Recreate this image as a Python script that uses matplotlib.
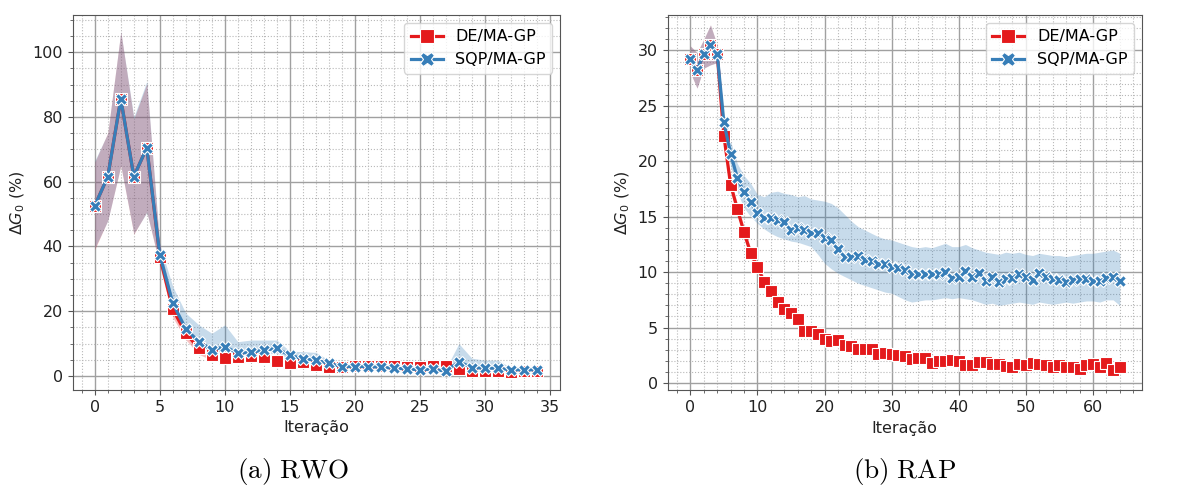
import matplotlib
matplotlib.use("Agg")
import matplotlib.pyplot as plt
from matplotlib.ticker import MultipleLocator
import numpy as np

# ---------------- data: RWO ----------------
iter_rwo = list(range(35))
de_rwo = [52.6, 61.6, 85.6, 61.6, 70.5, 36.9, 20.6, 13.2, 8.5, 6.5, 5.7, 5.8, 6.3, 6.0, 4.7,
          4.1, 4.4, 3.4, 2.9, 2.9, 3.2, 3.2, 3.1, 3.2, 2.9, 2.9, 3.1, 3.2, 2.1, 1.6, 1.5, 1.5,
          1.3, 1.5, 1.5]
de_rwo_err = [13.5, 13.5, 20.7, 17.8, 19.8, 3.0, 2.5, 2.0, 1.8, 1.6, 1.5, 1.3, 1.2, 1.1, 1.0,
              1.0, 0.9, 0.8, 0.7, 0.6, 0.6, 0.6, 0.6, 0.6, 0.6, 0.6, 0.6, 0.6, 0.6, 0.5, 0.5,
              0.5, 0.5, 0.5, 0.5]
sqp_rwo = [52.6, 61.6, 85.6, 61.6, 70.5, 37.4, 22.5, 14.5, 10.6, 8.0, 9.1, 7.0, 7.3, 8.0, 8.5,
           6.4, 5.3, 4.9, 3.9, 2.9, 2.9, 2.9, 2.7, 2.4, 2.2, 1.9, 2.1, 1.5, 4.4, 2.6, 2.4, 2.4,
           1.9, 1.9, 1.9]
sqp_rwo_lo = [39.5, 48.0, 65.0, 44.0, 50.5, 34.5, 20.0, 12.5, 9.0, 7.0, 6.8, 6.0, 6.2, 6.8, 7.0,
              5.5, 4.6, 4.2, 3.3, 2.4, 2.4, 2.4, 2.2, 1.9, 1.7, 1.4, 1.6, 1.0, 2.5, 2.0, 1.9, 1.9,
              1.4, 1.4, 1.4]
sqp_rwo_hi = [66.5, 75.0, 106.4, 80.0, 91.0, 40.5, 27.6, 19.4, 15.8, 13.2, 15.8, 10.6, 11.1, 11.1,
              11.1, 7.7, 7.5, 7.3, 4.9, 3.6, 3.6, 3.6, 3.4, 3.1, 2.9, 2.6, 2.8, 2.2, 10.0, 5.5,
              4.9, 4.9, 2.6, 2.6, 2.6]

# ---------------- data: RAP ----------------
iter_rap = list(range(65))
de_rap = [29.2, 28.2, 29.7, 30.5, 29.7, 22.3, 17.9, 15.7, 13.6, 11.7, 10.5, 9.1, 8.3, 7.3, 6.7,
          6.3, 5.8, 4.7, 4.7, 4.4, 4.0, 3.8, 3.9, 3.4, 3.3, 3.1, 3.1, 3.1, 2.6, 2.7, 2.6, 2.5,
          2.4, 2.2, 2.3, 2.3, 1.8, 2.0, 2.0, 2.1, 2.0, 1.6, 1.6, 1.9, 1.9, 1.7, 1.7, 1.5, 1.4,
          1.7, 1.6, 1.8, 1.7, 1.6, 1.4, 1.6, 1.4, 1.4, 1.3, 1.6, 1.7, 1.4, 1.8, 1.2, 1.4]
de_rap_err = [1.2, 1.6, 1.3, 1.8, 0.8, 0.6, 0.5, 0.5, 0.45, 0.45, 0.4, 0.4, 0.4, 0.35, 0.35,
              0.35, 0.35, 0.3, 0.3, 0.3, 0.3, 0.3, 0.3, 0.3, 0.3, 0.3, 0.3, 0.3, 0.3, 0.3, 0.3,
              0.3, 0.3, 0.3, 0.3, 0.3, 0.3, 0.3, 0.3, 0.3, 0.3, 0.3, 0.3, 0.3, 0.3, 0.3, 0.3,
              0.3, 0.3, 0.3, 0.3, 0.3, 0.3, 0.3, 0.3, 0.3, 0.3, 0.3, 0.3, 0.3, 0.3, 0.3, 0.3,
              0.3, 0.3]
sqp_rap = [29.2, 28.2, 29.7, 30.5, 29.7, 23.5, 20.7, 18.5, 17.2, 16.3, 15.3, 14.9, 14.9, 14.7,
           14.5, 13.8, 14.0, 13.8, 13.5, 13.5, 13.1, 12.9, 12.1, 11.4, 11.4, 11.5, 11.1, 11.0,
           10.7, 10.7, 10.5, 10.4, 10.2, 9.8, 9.8, 9.8, 9.8, 9.8, 10.0, 9.5, 9.6, 10.1, 9.6,
           9.9, 9.2, 9.6, 9.1, 9.4, 9.5, 9.8, 9.6, 9.3, 9.9, 9.6, 9.4, 9.3, 9.1, 9.3, 9.4, 9.4,
           9.2, 9.2, 9.5, 9.6, 9.2]
sqp_rap_lo = [28.0, 26.6, 28.4, 28.7, 28.9, 23.0, 19.6, 17.2, 15.8, 15.0, 14.4, 13.9, 13.5, 13.2,
              13.0, 12.8, 12.7, 12.5, 12.3, 11.6, 10.8, 10.3, 9.9, 9.6, 9.3, 9.0, 8.8, 8.6, 8.4,
              8.2, 8.1, 7.8, 7.5, 7.3, 7.4, 7.5, 7.5, 7.6, 7.7, 7.6, 7.7, 7.6, 7.5, 7.3, 7.1,
              7.2, 7.0, 7.1, 7.2, 7.3, 7.2, 7.1, 7.3, 7.2, 7.1, 7.2, 7.3, 7.2, 7.3, 7.4, 7.4,
              7.3, 7.5, 7.5, 7.0]
sqp_rap_hi = [30.4, 29.8, 31.0, 32.3, 30.5, 24.0, 21.8, 19.8, 18.7, 18.0, 17.0, 16.8, 17.2, 17.3,
              17.1, 17.0, 16.8, 16.9, 16.6, 16.5, 16.4, 16.2, 15.8, 15.2, 14.6, 14.1, 13.8, 13.5,
              13.2, 13.0, 12.9, 12.7, 12.5, 12.3, 12.2, 12.3, 12.2, 12.4, 12.6, 12.3, 12.3, 12.5,
              12.2, 12.0, 11.8, 11.7, 11.6, 11.8, 11.7, 11.8, 11.6, 11.5, 11.7, 11.6, 11.5, 11.5,
              11.4, 11.5, 11.6, 11.7, 11.7, 11.8, 11.9, 12.0, 11.7]

labels = ["DE/MA-GP", "SQP/MA-GP"]
captions = [r"$\mathrm{(a)\ RWO}$", r"$\mathrm{(b)\ RAP}$"]

RED = "#e41a1c"
BLUE = "#377eb8"
FS = 11.5

fig = plt.figure(figsize=(11.92, 4.98), dpi=100)
ax1 = fig.add_axes([0.061, 0.217, 0.409, 0.753])
ax2 = fig.add_axes([0.560, 0.216, 0.398, 0.754])


def draw(ax, x, de, de_err, sqp, sqp_lo, sqp_hi):
    x = np.asarray(x)
    de = np.asarray(de)
    de_err = np.asarray(de_err)
    ax.fill_between(x, de - de_err, de + de_err, color=RED, alpha=0.28, lw=0, zorder=2)
    ax.fill_between(x, sqp_lo, sqp_hi, color=BLUE, alpha=0.28, lw=0, zorder=2)
    ax.plot(x, de, color=RED, lw=2.3, marker="s", ms=8, mec="white", mew=0.8,
            label=labels[0], zorder=3)
    ax.plot(x, sqp, color=BLUE, lw=2.3, marker="X", ms=8.5, mec="white", mew=0.8,
            label=labels[1], zorder=4)
    ax.grid(which="major", color="#a0a0a0", lw=1.0, ls="-", zorder=0)
    ax.grid(which="minor", color="#b8b8b8", lw=0.8, ls=":", zorder=0)
    ax.set_axisbelow(True)
    for sp in ax.spines.values():
        sp.set_color("#555555")
    ax.tick_params(which="both", colors="#555555", labelcolor="#222222", labelsize=FS)
    ax.set_xlabel("Iteração", fontsize=FS, color="#222222")
    ax.set_ylabel(r"$\Delta G_0$ (%)", fontsize=FS, color="#222222")
    ax.legend(loc="upper right", fontsize=FS, markerscale=1.25)


draw(ax1, iter_rwo, de_rwo, de_rwo_err, sqp_rwo, sqp_rwo_lo, sqp_rwo_hi)
ax1.set_xlim(-1.7, 35.8)
ax1.set_ylim(-4.3, 111.5)
ax1.xaxis.set_major_locator(MultipleLocator(5))
ax1.xaxis.set_minor_locator(MultipleLocator(1))
ax1.yaxis.set_major_locator(MultipleLocator(20))
ax1.yaxis.set_minor_locator(MultipleLocator(5))

draw(ax2, iter_rap, de_rap, de_rap_err, sqp_rap, sqp_rap_lo, sqp_rap_hi)
ax2.set_xlim(-3.4, 67.3)
ax2.set_ylim(-0.67, 33.2)
ax2.xaxis.set_major_locator(MultipleLocator(10))
ax2.xaxis.set_minor_locator(MultipleLocator(2))
ax2.yaxis.set_major_locator(MultipleLocator(5))
ax2.yaxis.set_minor_locator(MultipleLocator(1))

fig.text(0.246, 0.054, captions[0], ha="center", va="center", fontsize=19.5,
         math_fontfamily="cm")
fig.text(0.759, 0.054, captions[1], ha="center", va="center", fontsize=19.5,
         math_fontfamily="cm")

fig.savefig("out.png", dpi=100)
